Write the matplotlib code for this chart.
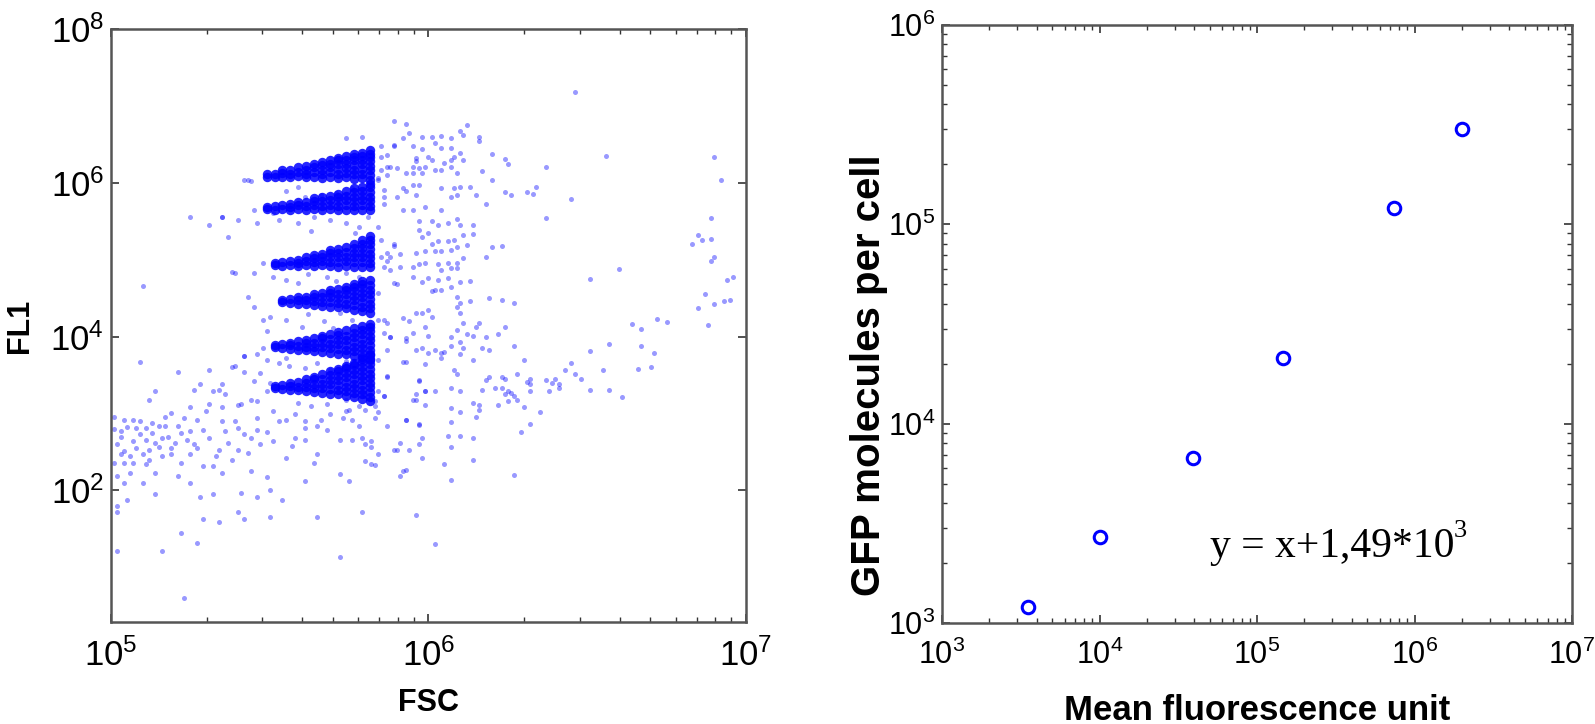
import numpy as np
import matplotlib
matplotlib.use('Agg')
import matplotlib.pyplot as plt
from matplotlib import ticker

plt.rcParams['font.family'] = ['Liberation Sans', 'DejaVu Sans']
plt.rcParams['mathtext.fontset'] = 'custom'
plt.rcParams['mathtext.rm'] = 'Liberation Sans'
plt.rcParams['mathtext.it'] = 'Liberation Sans:italic'
plt.rcParams['mathtext.bf'] = 'Liberation Sans:bold'

# ---- left panel: FSC / FL1 scatter, values in log10 ----
# dense bands: (log10 FSC, [log10 FL1 ...]) columns
band1 = [(5.490, [6.08, 6.11]), (5.515, [6.07, 6.12]), (5.540, [6.08, 6.13, 6.16]),
         (5.565, [6.07, 6.12, 6.17]), (5.590, [6.09, 6.14, 6.20]), (5.615, [6.07, 6.12, 6.17, 6.22]),
         (5.640, [6.08, 6.14, 6.20, 6.25]), (5.665, [6.06, 6.11, 6.17, 6.23, 6.27]),
         (5.690, [6.08, 6.14, 6.20, 6.25, 6.30]), (5.715, [6.06, 6.12, 6.18, 6.24, 6.29, 6.32]),
         (5.740, [6.07, 6.13, 6.19, 6.25, 6.30, 6.35]), (5.765, [6.05, 6.11, 6.17, 6.23, 6.29, 6.34, 6.37]),
         (5.790, [6.06, 6.12, 6.18, 6.24, 6.30, 6.35, 6.39]),
         (5.815, [6.04, 6.10, 6.16, 6.22, 6.28, 6.33, 6.38, 6.42])]
band2 = [(5.490, [5.66, 5.69]), (5.515, [5.65, 5.70]), (5.540, [5.66, 5.71]),
         (5.565, [5.65, 5.69, 5.73]), (5.590, [5.66, 5.71, 5.75]), (5.615, [5.65, 5.70, 5.75]),
         (5.640, [5.66, 5.71, 5.76, 5.80]), (5.665, [5.65, 5.70, 5.76, 5.81]),
         (5.690, [5.66, 5.71, 5.77, 5.83]), (5.715, [5.65, 5.70, 5.76, 5.82, 5.86]),
         (5.740, [5.65, 5.71, 5.77, 5.83, 5.89]), (5.765, [5.64, 5.70, 5.76, 5.82, 5.88, 5.93]),
         (5.790, [5.65, 5.71, 5.77, 5.83, 5.89, 5.95]),
         (5.815, [5.64, 5.70, 5.76, 5.82, 5.88, 5.94, 5.99])]
band3 = [(5.515, [4.93, 4.96]), (5.540, [4.92, 4.97]), (5.565, [4.93, 4.98]),
         (5.590, [4.92, 4.96, 5.00]), (5.615, [4.93, 4.98, 5.03]), (5.640, [4.92, 4.97, 5.02, 5.06]),
         (5.665, [4.93, 4.98, 5.03, 5.08]), (5.690, [4.92, 4.97, 5.03, 5.09, 5.12]),
         (5.715, [4.91, 4.97, 5.03, 5.09, 5.14]), (5.740, [4.92, 4.98, 5.04, 5.10, 5.17]),
         (5.765, [4.91, 4.97, 5.03, 5.09, 5.15, 5.21]),
         (5.790, [4.91, 4.97, 5.03, 5.09, 5.15, 5.21, 5.26]),
         (5.815, [4.90, 4.96, 5.02, 5.08, 5.14, 5.20, 5.26, 5.31])]
band4 = [(5.540, [4.45, 4.48]), (5.565, [4.44, 4.49]), (5.590, [4.43, 4.48, 4.51]),
         (5.615, [4.42, 4.47, 4.52]), (5.640, [4.41, 4.46, 4.51, 4.55]),
         (5.665, [4.40, 4.45, 4.51, 4.57]), (5.690, [4.39, 4.45, 4.51, 4.57, 4.60]),
         (5.715, [4.38, 4.44, 4.50, 4.56, 4.62]), (5.740, [4.37, 4.43, 4.49, 4.55, 4.61, 4.65]),
         (5.765, [4.35, 4.41, 4.47, 4.53, 4.59, 4.65, 4.68]),
         (5.790, [4.33, 4.39, 4.45, 4.51, 4.57, 4.63, 4.69, 4.72]),
         (5.815, [4.31, 4.37, 4.43, 4.49, 4.55, 4.61, 4.67, 4.74])]
band5 = [(5.515, [3.86, 3.89]), (5.540, [3.85, 3.90]), (5.565, [3.84, 3.89, 3.92]),
         (5.590, [3.83, 3.88, 3.94]), (5.615, [3.82, 3.87, 3.92, 3.96]),
         (5.640, [3.81, 3.86, 3.92, 3.98]), (5.665, [3.80, 3.86, 3.92, 3.98, 4.01]),
         (5.690, [3.79, 3.85, 3.91, 3.97, 4.03]), (5.715, [3.78, 3.84, 3.90, 3.96, 4.02, 4.06]),
         (5.740, [3.77, 3.83, 3.89, 3.95, 4.01, 4.08]),
         (5.765, [3.75, 3.81, 3.87, 3.93, 3.99, 4.05, 4.11]),
         (5.790, [3.73, 3.79, 3.85, 3.91, 3.97, 4.03, 4.09, 4.14]),
         (5.815, [3.71, 3.77, 3.83, 3.89, 3.95, 4.01, 4.07, 4.13, 4.17])]
band6 = [(5.515, [3.33, 3.36]), (5.540, [3.32, 3.37]), (5.565, [3.31, 3.36, 3.40]),
         (5.590, [3.30, 3.35, 3.41]), (5.615, [3.29, 3.34, 3.40, 3.45]),
         (5.640, [3.28, 3.33, 3.39, 3.45, 3.48]), (5.665, [3.27, 3.33, 3.39, 3.45, 3.51]),
         (5.690, [3.26, 3.32, 3.38, 3.44, 3.50, 3.55]),
         (5.715, [3.25, 3.31, 3.37, 3.43, 3.49, 3.55, 3.58]),
         (5.740, [3.23, 3.29, 3.35, 3.41, 3.47, 3.53, 3.59, 3.62]),
         (5.765, [3.21, 3.27, 3.33, 3.39, 3.45, 3.51, 3.57, 3.63, 3.66]),
         (5.790, [3.19, 3.25, 3.31, 3.37, 3.43, 3.49, 3.55, 3.61, 3.67, 3.71]),
         (5.815, [3.16, 3.22, 3.28, 3.34, 3.40, 3.46, 3.52, 3.58, 3.64, 3.70, 3.76])]

# sparse events (log10 FSC, log10 FL1)
low_left = [(5.09, 3.67), (5.21, 3.54), (5.31, 3.56), (5.42, 3.54), (5.38, 3.61), (5.42, 3.75), (5.46, 3.78),
            (5.48, 3.85), (5.14, 3.29), (5.12, 3.18), (5.26, 3.31), (5.28, 3.39), (5.32, 3.29), (5.34, 3.31),
            (5.36, 3.25), (5.25, 3.09), (5.31, 3.13), (5.35, 3.09), (5.40, 3.11), (5.46, 3.16), (5.45, 3.42),
            (5.49, 3.29), (5.01, 2.96), (5.04, 2.91), (5.07, 2.91), (5.01, 2.80), (5.03, 2.77), (5.08, 2.81),
            (5.11, 2.81), (5.13, 2.88), (5.15, 2.84), (5.09, 2.73), (5.07, 2.64), (5.11, 2.66), (5.14, 2.62),
            (5.16, 2.68), (5.19, 3.01), (5.17, 2.84), (5.21, 2.84), (5.23, 2.94), (5.25, 2.77), (5.27, 2.92),
            (5.29, 2.79), (5.30, 3.03), (5.35, 2.90), (5.36, 2.77), (5.39, 2.90), (5.40, 2.81), (5.42, 2.74),
            (5.44, 2.68), (5.46, 2.94), (5.46, 2.79), (5.49, 2.76), (5.51, 3.03), (5.53, 2.90), (5.55, 2.92),
            (5.58, 2.99), (5.61, 2.90), (5.58, 2.68), (5.61, 2.81), (5.65, 2.84), (5.68, 2.79), (5.66, 2.92),
            (5.69, 2.99), (5.73, 2.94), (5.75, 3.05), (5.78, 2.84), (5.80, 3.05), (5.02, 2.60), (5.04, 2.51),
            (5.01, 2.36), (5.04, 2.36), (5.07, 2.36), (5.11, 2.34), (5.12, 2.40), (5.02, 2.19), (5.04, 2.10),
            (5.06, 2.23), (5.10, 2.10), (5.14, 2.23), (5.16, 2.45), (5.19, 2.47), (5.21, 2.19), (5.22, 2.36),
            (5.25, 2.10), (5.25, 2.47), (5.27, 2.55), (5.29, 2.32), (5.32, 2.32), (5.34, 2.53), (5.35, 2.23),
            (5.38, 2.40), (5.40, 2.53), (5.43, 2.49), (5.44, 2.25), (5.47, 2.60), (5.49, 2.17), (5.51, 2.64),
            (5.55, 2.42), (5.57, 2.58), (5.61, 2.66), (5.64, 2.36), (5.65, 2.47), (5.61, 2.12), (5.72, 2.21),
            (5.75, 2.12), (5.72, 2.66), (5.76, 2.66), (5.80, 2.38), (5.82, 2.34), (5.80, 2.60), (5.79, 2.68),
            (5.05, 1.88), (5.02, 1.80), (5.02, 1.72), (5.14, 1.95), (5.28, 1.91), (5.32, 1.96), (5.41, 1.97),
            (5.46, 1.91), (5.50, 2.01), (5.54, 1.88), (5.29, 1.63), (5.34, 1.59), (5.40, 1.72), (5.42, 1.63),
            (5.50, 1.65), (5.65, 1.65), (5.79, 1.72), (5.96, 1.68), (5.22, 1.45), (5.27, 1.32), (5.02, 1.21),
            (5.16, 1.21), (5.72, 1.13), (5.23, 0.60), (5.03, 2.70), (5.05, 2.83), (5.08, 2.55), (5.12, 2.52),
            (5.15, 2.57), (5.18, 2.70), (5.20, 2.62), (5.06, 2.45), (5.10, 2.47), (5.13, 2.75), (5.22, 2.75),
            (5.24, 2.66), (5.19, 2.55), (5.03, 2.48), (5.09, 2.90), (5.17, 2.95), (5.26, 2.60), (5.31, 2.68),
            (5.33, 2.45), (5.37, 2.62)]
near_band = [(5.59, 3.14), (5.63, 3.10), (5.68, 3.12), (5.74, 3.03), (5.83, 3.16), (5.86, 3.23), (5.87, 2.84),
             (5.90, 2.53), (5.91, 2.19), (5.93, 2.92), (5.94, 2.53), (5.96, 3.18), (5.97, 2.86), (5.98, 2.68),
             (5.98, 2.42), (5.92, 2.25), (5.97, 3.42), (5.99, 3.29), (5.88, 4.00), (5.95, 4.05), (5.93, 3.94),
             (5.87, 3.83), (5.92, 3.67), (5.87, 3.49), (5.86, 4.05), (5.49, 3.70), (5.53, 3.66), (5.56, 3.62),
             (5.55, 3.72), (5.50, 3.40), (5.57, 3.38), (5.61, 3.59), (5.65, 3.66), (5.69, 3.57), (5.74, 3.68),
             (5.74, 3.18), (5.78, 3.10), (5.80, 3.23), (5.76, 2.92), (5.74, 6.58), (5.79, 6.60), (5.42, 6.04),
             (5.44, 6.02), (5.35, 5.56), (5.37, 5.30), (5.40, 5.52), (5.45, 5.65), (5.46, 5.48), (5.39, 4.83),
             (5.45, 4.83), (5.48, 4.96), (5.43, 4.52), (5.45, 4.39), (5.48, 4.22), (5.49, 4.07), (5.42, 3.75),
             (5.39, 3.62), (5.47, 3.53), (5.35, 3.38), (5.41, 3.12), (5.44, 3.18), (5.55, 5.89), (5.61, 5.82),
             (5.66, 5.84), (5.71, 5.87), (5.76, 5.93), (5.59, 5.95), (5.53, 5.52), (5.59, 5.48), (5.64, 5.56),
             (5.69, 5.52), (5.74, 5.48), (5.78, 5.43), (5.77, 5.35), (5.63, 5.37), (5.51, 5.61), (5.81, 5.56),
             (5.51, 4.78), (5.55, 4.74), (5.62, 4.81), (5.68, 4.78), (5.74, 4.83), (5.78, 4.78), (5.71, 4.72),
             (5.59, 4.70), (5.50, 4.26), (5.55, 4.22), (5.62, 4.29), (5.67, 4.20), (5.72, 4.31), (5.76, 4.22),
             (5.60, 4.13), (5.70, 4.11), (5.85, 6.34), (5.87, 6.21), (5.84, 6.04), (5.89, 6.49), (5.86, 5.82),
             (5.84, 5.43), (5.85, 5.26), (5.87, 5.09), (5.89, 5.20), (5.86, 4.91), (5.89, 4.70), (5.84, 4.57),
             (5.86, 4.22), (5.88, 4.00), (5.84, 3.70), (5.86, 3.23), (5.25, 5.55), (5.31, 5.45), (5.35, 5.56),
             (5.38, 4.84), (5.10, 4.66), (5.43, 6.03)]
right_cluster = [(6.46, 7.18), (5.89, 6.80), (5.93, 6.77), (5.85, 6.48), (5.89, 6.48), (5.87, 6.36), (5.92, 6.58),
                 (5.94, 6.65), (5.98, 6.60), (6.01, 6.59), (6.04, 6.61), (6.07, 6.58), (6.10, 6.67), (6.12, 6.75),
                 (6.11, 6.62), (5.95, 6.48), (5.98, 6.44), (6.02, 6.52), (6.04, 6.45), (6.07, 6.45), (6.10, 6.39),
                 (6.08, 6.34), (6.11, 6.30), (6.07, 6.30), (6.05, 6.26), (6.07, 6.21), (6.04, 6.17), (6.09, 6.13),
                 (5.96, 6.32), (6.00, 6.34), (6.01, 6.30), (5.95, 6.21), (5.97, 6.19), (5.99, 6.21), (6.02, 6.17),
                 (5.95, 6.13), (5.98, 6.13), (5.93, 6.13), (5.90, 6.19), (5.88, 6.21), (5.85, 6.17), (5.87, 6.10),
                 (5.96, 6.28), (5.84, 6.06), (5.92, 5.93), (5.95, 5.97), (5.97, 5.97), (5.96, 5.84), (5.93, 5.89),
                 (5.90, 5.82), (5.86, 5.91), (6.08, 5.93), (6.10, 5.95), (6.09, 5.84), (6.07, 5.82), (6.04, 5.93),
                 (6.13, 5.95), (6.15, 5.84), (5.86, 5.73), (5.92, 5.65), (5.95, 5.65), (5.99, 5.69), (6.04, 5.65),
                 (6.16, 6.60), (6.16, 6.54), (6.20, 6.38), (6.24, 6.31), (6.25, 6.24), (6.17, 6.15), (6.20, 6.04),
                 (6.18, 5.72), (6.24, 5.88), (6.26, 5.84), (6.31, 5.88), (6.33, 5.85), (6.34, 5.94), (6.37, 6.21),
                 (6.45, 5.79), (6.56, 6.35), (6.90, 6.33), (6.92, 6.04), (6.37, 5.54), (6.89, 5.54), (5.97, 5.50),
                 (6.01, 5.50), (5.97, 5.39), (6.00, 5.35), (6.03, 5.45), (6.06, 5.48), (6.09, 5.53), (6.10, 5.45),
                 (6.14, 5.45), (6.14, 5.34), (6.11, 5.32), (6.08, 5.26), (6.06, 5.24), (6.03, 5.24), (6.01, 5.21),
                 (5.98, 5.30), (5.99, 5.11), (6.02, 5.11), (6.04, 5.11), (6.07, 5.13), (6.09, 5.17), (6.12, 5.19),
                 (5.89, 5.18), (5.96, 5.09), (5.85, 5.04), (5.88, 5.04), (5.91, 5.07), (5.87, 4.98), (5.91, 4.91),
                 (5.88, 4.86), (5.95, 4.91), (5.97, 4.94), (5.99, 4.96), (6.03, 4.94), (6.06, 4.96), (6.09, 4.96),
                 (6.11, 5.02), (6.09, 4.89), (6.07, 4.89), (6.04, 4.87), (5.95, 4.78), (6.00, 4.76), (6.03, 4.74),
                 (6.06, 4.76), (6.10, 4.71), (6.13, 4.72), (5.98, 4.71), (5.90, 4.68), (6.01, 4.59), (6.02, 4.61),
                 (6.04, 4.61), (6.07, 4.64), (6.18, 5.04), (6.20, 5.17), (6.23, 5.18)]
trail = [(6.09, 4.52), (6.13, 4.46), (6.10, 4.44), (6.19, 4.50), (6.23, 4.48), (6.27, 4.44), (6.51, 4.75),
         (6.60, 4.88), (6.83, 5.20), (6.85, 5.32), (6.86, 5.25), (6.89, 5.27), (6.90, 5.04), (6.89, 4.98),
         (6.94, 4.73), (6.96, 4.77), (6.87, 4.55), (6.90, 4.42), (6.93, 4.46), (6.95, 4.48), (6.85, 4.37),
         (6.88, 4.15), (6.72, 4.23), (6.75, 4.19), (6.64, 4.17), (6.67, 4.10), (5.84, 4.22), (5.87, 4.18),
         (5.92, 4.24), (5.94, 4.20), (5.98, 4.31), (6.01, 4.26), (5.96, 4.31), (6.00, 4.35), (5.99, 4.13),
         (5.93, 3.98), (6.09, 4.09), (6.11, 4.18), (6.10, 4.31), (6.09, 4.39), (6.16, 4.18), (6.15, 4.13),
         (6.24, 4.12), (5.96, 3.83), (5.98, 3.85), (6.00, 3.79), (6.02, 3.83), (6.04, 3.79), (6.05, 3.80),
         (6.07, 3.88), (6.10, 3.93), (6.11, 3.85), (6.10, 3.77), (6.12, 4.04), (6.14, 4.01), (6.17, 3.85),
         (6.18, 4.00), (6.19, 3.83), (6.22, 4.04), (6.27, 3.88), (6.00, 4.01), (6.07, 4.00), (5.93, 3.67),
         (5.99, 3.65), (6.04, 3.72), (6.14, 3.69), (5.87, 3.48), (5.97, 3.43), (6.08, 3.56), (6.09, 3.52),
         (5.84, 3.29), (5.95, 3.18), (5.96, 3.25), (5.99, 3.29), (6.02, 3.29), (6.07, 3.33), (6.10, 3.29),
         (6.17, 3.31), (6.18, 3.44), (6.19, 3.47), (6.21, 3.33), (6.23, 3.48), (6.23, 3.33), (6.24, 3.45),
         (6.25, 3.29), (6.26, 3.27), (6.27, 3.23), (6.28, 3.51), (6.28, 3.18), (6.25, 3.16), (6.24, 3.25),
         (6.30, 3.69), (6.31, 3.41), (6.32, 3.38), (6.32, 3.45), (6.32, 3.29), (6.37, 3.43), (6.38, 3.29),
         (6.39, 3.40), (6.40, 3.45), (6.41, 3.33), (6.41, 3.39), (6.43, 3.56), (6.45, 3.66), (6.46, 3.52),
         (6.48, 3.45), (6.51, 3.31), (6.51, 3.81), (6.55, 3.56), (6.57, 3.31), (6.57, 3.90), (6.61, 3.22),
         (6.66, 3.58), (6.67, 3.88), (6.70, 3.61), (6.71, 3.79), (5.99, 3.11), (6.07, 3.07), (6.10, 3.02),
         (6.14, 3.14), (6.16, 3.11), (6.16, 3.04), (6.15, 2.95), (6.22, 3.11), (6.30, 3.09), (6.35, 3.02),
         (6.32, 2.87), (6.29, 2.76), (5.83, 3.10), (5.84, 3.02), (5.83, 2.94), (5.93, 2.91), (5.97, 2.85),
         (6.07, 2.89), (6.06, 2.71), (6.10, 2.71), (6.14, 2.68), (5.91, 2.62), (5.89, 2.52), (5.97, 2.60),
         (5.82, 2.64), (5.82, 2.57), (5.84, 2.48), (5.83, 2.33), (6.07, 2.57), (6.05, 2.35), (6.14, 2.39),
         (5.93, 2.26), (6.07, 2.14), (6.27, 2.20), (6.02, 1.31)]

# ---- right panel: calibration points ----
mean_fluor = [3.5e3, 1.0e4, 3.9e4, 1.46e5, 7.4e5, 2.0e6]
gfp_per_cell = [1.2e3, 2.7e3, 6.7e3, 2.13e4, 1.21e5, 3.0e5]
fit_text = 'y = x+1,49*10'
fit_exp = '3'


def band_xy(cols):
    xs, ys = [], []
    for x, yl in cols:
        for y in yl:
            xs.append(x)
            ys.append(y)
    return 10 ** np.array(xs), 10 ** np.array(ys)


def pts_xy(pts):
    a = np.array(pts)
    return 10 ** a[:, 0], 10 ** a[:, 1]


def sup_labels(vals):
    return [r'$\mathregular{10^{%d}}$' % int(round(np.log10(v))) for v in vals]


def style_ax(ax, fs, xminor=True, yminor=True):
    for s in ax.spines.values():
        s.set_color('#555555')
        s.set_linewidth(1.8)
    ax.tick_params(which='both', direction='in', top=True, right=True, color='#333333')
    ax.tick_params(which='major', length=6, width=1.2, labelsize=fs)
    ax.tick_params(which='minor', length=3.5, width=1.0)
    ax.tick_params(axis='x', pad=12)
    ax.tick_params(axis='y', pad=5)
    sub = ticker.LogLocator(base=10, subs=np.arange(2, 10))
    ax.xaxis.set_minor_locator(sub if xminor else ticker.NullLocator())
    ax.yaxis.set_minor_locator(ticker.LogLocator(base=10, subs=np.arange(2, 10)) if yminor
                               else ticker.NullLocator())


fig = plt.figure(figsize=(15.95, 7.24), dpi=100)
ax1 = fig.add_axes([0.0696, 0.1409, 0.3981, 0.8191])
ax2 = fig.add_axes([0.5906, 0.1395, 0.3950, 0.8260])

# left: FSC vs FL1
ax1.set_xscale('log')
ax1.set_yscale('log')
for grp in [low_left, near_band, right_cluster, trail]:
    x, y = pts_xy(grp)
    ax1.scatter(x, y, s=13, color='blue', alpha=0.4, linewidths=0)
for b in [band1, band2, band3, band4, band5, band6]:
    x, y = band_xy(b)
    ax1.scatter(x, y, s=46, color='blue', alpha=0.85, linewidths=0)
ax1.set_xlim(1e5, 1e7)
ax1.set_ylim(10 ** 0.29, 1e8)
xt1 = [1e5, 1e6, 1e7]
yt1 = [1e2, 1e4, 1e6, 1e8]
ax1.xaxis.set_major_locator(ticker.FixedLocator(xt1))
ax1.xaxis.set_major_formatter(ticker.FixedFormatter(sup_labels(xt1)))
ax1.yaxis.set_major_locator(ticker.FixedLocator(yt1))
ax1.yaxis.set_major_formatter(ticker.FixedFormatter(sup_labels(yt1)))
style_ax(ax1, 25, xminor=True, yminor=False)
ax1.set_xlabel('FSC', fontsize=22, fontweight='bold')
ax1.set_ylabel('FL1', fontsize=22, fontweight='bold')
ax1.xaxis.set_label_coords(0.5, -0.112)
ax1.yaxis.set_label_coords(-0.12, 0.5)

# right: calibration
ax2.set_xscale('log')
ax2.set_yscale('log')
ax2.plot(mean_fluor, gfp_per_cell, 'o', mfc='none', mec='blue', ms=9, mew=2.2)
ax2.set_xlim(1e3, 1e7)
ax2.set_ylim(1e3, 1e6)
xt2 = [1e3, 1e4, 1e5, 1e6, 1e7]
yt2 = [1e3, 1e4, 1e5, 1e6]
ax2.xaxis.set_major_locator(ticker.FixedLocator(xt2))
ax2.xaxis.set_major_formatter(ticker.FixedFormatter(sup_labels(xt2)))
ax2.yaxis.set_major_locator(ticker.FixedLocator(yt2))
ax2.yaxis.set_major_formatter(ticker.FixedFormatter(sup_labels(yt2)))
style_ax(ax2, 22)
ax2.set_xlabel('Mean fluorescence unit', fontsize=25, fontweight='bold')
ax2.set_ylabel('GFP molecules per cell', fontsize=29, fontweight='bold')
ax2.xaxis.set_label_coords(0.5, -0.118)
ax2.yaxis.set_label_coords(-0.085, 0.415)

t = ax2.text(5.0e4, 2150, fit_text, fontsize=30, family='Liberation Serif', va='baseline')
ax2.annotate(fit_exp, xy=(1.0, 0.62), xycoords=t, fontsize=19, family='Liberation Serif',
             va='bottom', ha='left')

fig.savefig('out.png', dpi=100)
